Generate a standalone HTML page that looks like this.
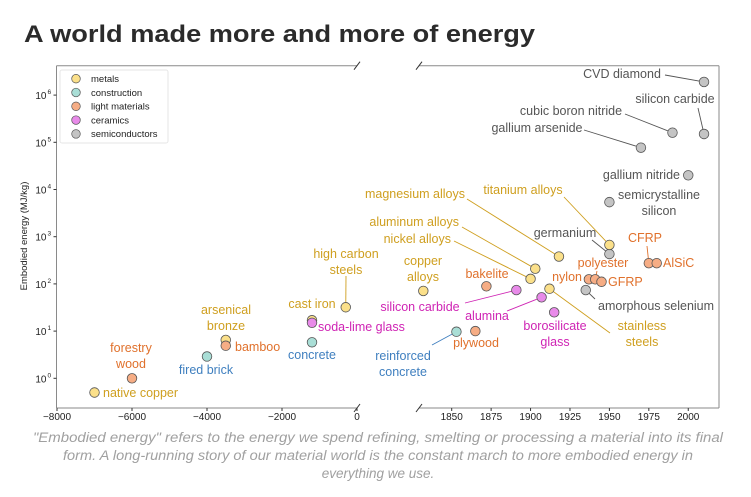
<!DOCTYPE html>
<html><head><meta charset="utf-8"><style>
html,body{margin:0;padding:0;background:#fff;}
body{width:751px;height:492px;overflow:hidden;font-family:"Liberation Sans",sans-serif;}
svg text{font-family:"Liberation Sans",sans-serif;}
</style></head><body>
<svg id="chart" width="751" height="492" viewBox="0 0 751 492" xmlns="http://www.w3.org/2000/svg">
<text x="24" y="42" font-size="24" font-weight="bold" fill="#2b2b2b" textLength="511" lengthAdjust="spacingAndGlyphs">A world made more and more of energy</text>
<g id="axes"></g>
<g id="leaders"></g>
<g id="marks"></g>
<g id="labels"></g>
<g id="legend"></g>
<text transform="translate(27,236) rotate(-90)" text-anchor="middle" font-size="9.5" fill="#222">Embodied energy (MJ/kg)</text>
<g font-style="italic" font-size="13.5" fill="#a0a0a0" text-anchor="middle">
<text x="378" y="442" textLength="690" lengthAdjust="spacingAndGlyphs">"Embodied energy" refers to the energy we spend refining, smelting or processing a material into its final</text>
<text x="378" y="460" textLength="630" lengthAdjust="spacingAndGlyphs">form. A long-running story of our material world is the constant march to more embodied energy in</text>
<text x="378" y="478">everything we use.</text>
</g>
</svg>
<script>
// ---- data ----
const categories = ["metals","construction","light materials","ceramics","semiconductors"];
const ancientNames = ["native copper","forestry wood","fired brick","arsenical bronze","bamboo","cast iron","soda-lime glass","high carbon steels","concrete"];
const ancientYears = [-7000,-6000,-4000,-3500,-3500,-1200,-1200,-300,-1200];
const ancientEnergy = [0.5,1,2.9,6.5,4.9,17,15,32,5.8];
const ancientCat = [0,2,1,0,2,0,3,0,1];
const modernNames = ["CVD diamond","silicon carbide (semi)","cubic boron nitride","gallium arsenide","gallium nitride","semicrystalline silicon","germanium","titanium alloys","magnesium alloys","aluminum alloys","nickel alloys","copper alloys","stainless steels","bakelite","silicon carbide","alumina","borosilicate glass","plywood","reinforced concrete","amorphous selenium","nylon","polyester","GFRP","CFRP","AlSiC"];
const modernYears = [2010,2010,1990,1970,2000,1950,1950,1950,1918,1903,1900,1832,1912,1872,1891,1907,1915,1865,1853,1935,1937,1941,1945,1975,1980];
const modernEnergy = [1.9e6,1.5e5,1.6e5,7.7e4,2e4,5.4e3,430,670,380,210,128,71,79,89,74,52,25,10,9.7,74,125,125,111,275,275];
const modernCat = [4,4,4,4,4,4,4,0,0,0,0,0,0,2,3,3,3,2,1,4,2,2,2,2,2];
const leftTicks = [-8000,-6000,-4000,-2000,0];
const rightTicks = [1850,1875,1900,1925,1950,1975,2000];
const yTickExps = [0,1,2,3,4,5,6];

// ---- styling ----
const fills = ["#fbe08a","#a9ded6","#f6ad85","#e88ae9","#c4c4c4"];
const textCols = ["#cf9f1f","#3f7fbf","#e0712c","#cf24b4","#555555"];
const NS = "http://www.w3.org/2000/svg";
const TOP = 65.7, BOT = 408, L0 = 56.5, L1 = 357, R0 = 419, R1 = 719;
function xl(v){ return 357 + v * 0.0375; }
function xr(v){ return 451.7 + (v - 1850) * 1.577; }
function yv(v){ return 378.3 - 47.2 * Math.log10(v); }
function mk(tag, attrs, parent){ const e = document.createElementNS(NS, tag); for (const k in attrs) e.setAttribute(k, attrs[k]); parent.appendChild(e); return e; }

const axes = document.getElementById('axes');
const ax = "#8a8a8a";
let e;
e = mk('line',{x1:L0,y1:TOP,x2:L0,y2:BOT,stroke:ax,'stroke-width':1},axes);
 
e = mk('line',{x1:L0,y1:TOP,x2:L1,y2:TOP,stroke:ax,'stroke-width':1},axes);
 
e = mk('line',{x1:L0,y1:BOT,x2:L1,y2:BOT,stroke:ax,'stroke-width':1},axes);
 
e = mk('line',{x1:R0,y1:TOP,x2:R1,y2:TOP,stroke:ax,'stroke-width':1},axes);
 
e = mk('line',{x1:R0,y1:BOT,x2:R1,y2:BOT,stroke:ax,'stroke-width':1},axes);
 
e = mk('line',{x1:R1,y1:TOP,x2:R1,y2:BOT,stroke:ax,'stroke-width':1},axes);
 
[[L1,TOP],[L1,BOT],[R0,TOP],[R0,BOT]].forEach(p=>{
  const b = mk('line',{x1:p[0]-3,y1:p[1]+4,x2:p[0]+3,y2:p[1]-4,stroke:'#333','stroke-width':1},axes);
  
  
});
leftTicks.forEach(t=>{
  const x = xl(t);
  mk('line',{x1:x,y1:BOT,x2:x,y2:BOT+3,stroke:'#333'},axes);
  const tx = mk('text',{x:x,y:BOT+12,'text-anchor':'middle','font-size':10,fill:'#222'},axes);
  tx.textContent = t < 0 ? '\u2212' + Math.abs(t) : String(t);
  
  
});
rightTicks.forEach(t=>{
  const x = xr(t);
  mk('line',{x1:x,y1:BOT,x2:x,y2:BOT+3,stroke:'#333'},axes);
  const tx = mk('text',{x:x,y:BOT+12,'text-anchor':'middle','font-size':10,fill:'#222'},axes);
  tx.textContent = String(t);
  
  
});
yTickExps.forEach(p=>{
  const y = yv(Math.pow(10,p));
  mk('line',{x1:L0-3,y1:y,x2:L0,y2:y,stroke:'#333'},axes);
  const tx = mk('text',{x:L0-10,y:y+4,'text-anchor':'end','font-size':10,fill:'#222'},axes);
  tx.textContent = '10';
  
  
  const sp = mk('text',{x:L0-9,y:y-1,'font-size':6.5,fill:'#222'},axes);
  sp.textContent = String(p);
});

const labelSpec = [
 ['native copper',['native copper'],103,397,'start','a',0,null],
 ['forestry wood',['forestry','wood'],131,352,'middle','a',1,null],
 ['fired brick',['fired brick'],206,374,'middle','a',2,null],
 ['arsenical bronze',['arsenical','bronze'],226,314,'middle','a',3,null],
 ['bamboo',['bamboo'],235,351,'start','a',4,null],
 ['cast iron',['cast iron'],312,308,'middle','a',5,null],
 ['soda-lime glass',['soda-lime glass'],318,331,'start','a',6,null],
 ['high carbon steels',['high carbon','steels'],346,258,'middle','a',7,[346,276]],
 ['concrete',['concrete'],312,359,'middle','a',8,null],
 ['CVD diamond',['CVD diamond'],622,78,'middle','m',0,[665,75]],
 ['silicon carbide semi',['silicon carbide'],675,103,'middle','m',1,[698,108]],
 ['cubic boron nitride',['cubic boron nitride'],571,115,'middle','m',2,[625,114]],
 ['gallium arsenide',['gallium arsenide'],537,132,'middle','m',3,[584,130]],
 ['gallium nitride',['gallium nitride'],680,179,'end','m',4,null],
 ['semicrystalline silicon',['semicrystalline','silicon'],659,199,'middle','m',5,null],
 ['germanium',['germanium'],565,237,'middle','m',6,[592,240]],
 ['titanium alloys',['titanium alloys'],523,194,'middle','m',7,[564,197]],
 ['magnesium alloys',['magnesium alloys'],465,198,'end','m',8,[467,199]],
 ['aluminum alloys',['aluminum alloys'],459,226,'end','m',9,[462,227]],
 ['nickel alloys',['nickel alloys'],451,243,'end','m',10,[454,241]],
 ['copper alloys',['copper','alloys'],423,265,'middle','m',11,null],
 ['stainless steels',['stainless','steels'],642,330,'middle','m',12,[610,333]],
 ['bakelite',['bakelite'],487,278,'middle','m',13,null],
 ['silicon carbide',['silicon carbide'],420,311,'middle','m',14,[465,303]],
 ['alumina',['alumina'],487,320,'middle','m',15,[507,311]],
 ['borosilicate glass',['borosilicate','glass'],555,330,'middle','m',16,null],
 ['plywood',['plywood'],476,347,'middle','m',17,null],
 ['reinforced concrete',['reinforced','concrete'],403,360,'middle','m',18,[432,345]],
 ['amorphous selenium',['amorphous selenium'],598,310,'start','m',19,[595,299]],
 ['nylon',['nylon'],582,281,'end','m',20,null],
 ['polyester',['polyester'],603,267,'middle','m',21,[597,271]],
 ['GFRP',['GFRP'],608,286,'start','m',22,null],
 ['CFRP',['CFRP'],645,242,'middle','m',23,[647,246]],
 ['AlSiC',['AlSiC'],663,267,'start','m',24,null]
];
const leaders = document.getElementById('leaders');
const labels = document.getElementById('labels');
labelSpec.forEach(s=>{
  const i = s[6];
  const isA = s[5]==='a';
  const cat = isA ? ancientCat[i] : modernCat[i];
  const px = isA ? xl(ancientYears[i]) : xr(modernYears[i]);
  const py = yv(isA ? ancientEnergy[i] : modernEnergy[i]);
  if (s[7]) {
    const ln = mk('line',{x1:s[7][0],y1:s[7][1],x2:px,y2:py,stroke:textCols[cat],'stroke-width':0.9},leaders);
    
    
  }
  s[1].forEach((t,k)=>{
    const tx = mk('text',{x:s[2],y:s[3]+k*16,'text-anchor':s[4],'font-size':12.5,fill:textCols[cat]},labels);
    tx.textContent = t;
    
    
  });
});
const marks = document.getElementById('marks');
function drawPts(years, vals, cats, fx){
  years.forEach((yr,i)=>{
    const c = mk('circle',{cx:fx(yr),cy:yv(vals[i]),r:4.8,fill:fills[cats[i]],stroke:'#555','stroke-width':0.8},marks);
    
    
  });
}
drawPts(ancientYears, ancientEnergy, ancientCat, xl);
drawPts(modernYears, modernEnergy, modernCat, xr);
const lg = document.getElementById('legend');
const box = mk('rect',{x:60,y:70,width:108,height:73,fill:'#fff',stroke:'#e6e6e6','stroke-width':1,rx:2},lg);


categories.forEach((c,i)=>{
  const y = 78.7 + i*13.8;
  const m = mk('circle',{cx:76,cy:y,r:4.3,fill:fills[i],stroke:'#555','stroke-width':0.7},lg);
  
  
  const t = mk('text',{x:91,y:y+3.3,'font-size':9.5,fill:'#222'},lg);
  t.textContent = c;
  
  
});
</script>
</body></html>
